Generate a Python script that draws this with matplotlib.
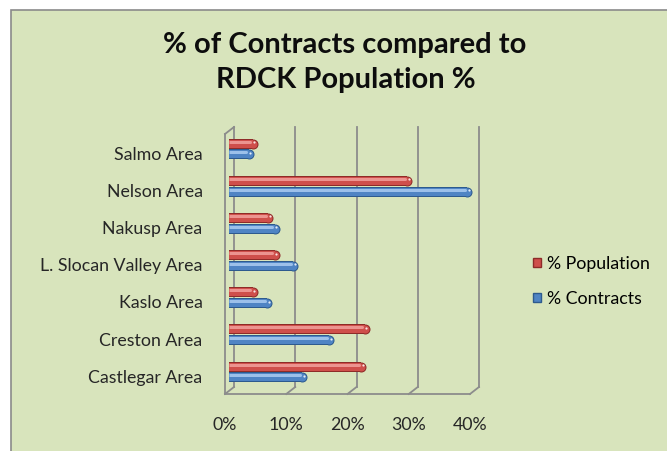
#!/usr/bin/env python3
"""Contracts vs population share per RDCK area, Excel-style tube bars."""

import matplotlib

matplotlib.use("Agg")
import matplotlib.pyplot as plt  # noqa: E402
from matplotlib.patches import Patch, Rectangle  # noqa: E402
from matplotlib.transforms import ScaledTranslation, offset_copy  # noqa: E402


AREAS = [
    "Castlegar Area",
    "Creston Area",
    "Kaslo Area",
    "L. Slocan Valley Area",
    "Nakusp Area",
    "Nelson Area",
    "Salmo Area",
]
POPULATION = [22.4, 23.0, 4.7, 8.3, 7.2, 29.9, 4.7]
CONTRACTS = [12.8, 17.2, 7.1, 11.3, 8.3, 39.7, 4.0]
X_TICKS = [0, 10, 20, 30, 40]
X_LABELS = ["0%", "10%", "20%", "30%", "40%"]

BACKGROUND = "#d8e4bc"
GRID = "#8c8c8c"
RED = ("#8e2b28", "#cf4f4b", "#ec9490")
BLUE = ("#2d5a8e", "#4f84c4", "#9cc0ea")
FONT = ["Lato", "DejaVu Sans"]

W, H, DPI = 667, 451, 100
PX_PER_UNIT = 245 / 40
PX_PER_ROW = 260 / len(AREAS)


def px(value: float) -> float:
    return value * 72 / DPI


def draw_tubes(axis, values, positions, palette, height_px=10.0):
    dark, body, light = palette
    for value, y in zip(values, positions):
        for width, color, dy, trim in (
            (height_px, dark, 0.0, 0.0),
            (height_px - 2.0, body, 0.0, 0.0),
            (3.0, light, 2.0, 2.5),
        ):
            end = value - height_px / 2 / PX_PER_UNIT - trim / PX_PER_UNIT
            transform = offset_copy(axis.transData, fig=axis.figure, x=0, y=dy, units="dots")
            axis.plot([0, end], [y, y], color=color, linewidth=px(width),
                      solid_capstyle="butt", transform=transform, zorder=3)
            axis.plot([end], [y], marker="o", markersize=px(width),
                      markeredgewidth=0, color=color, transform=transform, zorder=3)
        tip = value - height_px / 2 / PX_PER_UNIT
        spot = offset_copy(axis.transData, fig=axis.figure, x=0, y=1.5, units="dots")
        axis.plot([tip + 1.5 / PX_PER_UNIT], [y], marker="o", markersize=px(2.2),
                  markeredgewidth=0, color="white", alpha=0.85, zorder=4, transform=spot)


fig = plt.figure(figsize=(W / DPI, H / DPI), dpi=DPI, facecolor="white")
fig.patches.append(Rectangle((11 / W, -0.05), 1.1, (H - 10) / H + 0.05,
                             transform=fig.transFigure, facecolor=BACKGROUND,
                             edgecolor="#8a8a8a", linewidth=1.2, zorder=-5))

axis = fig.add_axes([229 / W, 60.5 / H, 245 / W, 260 / H])
axis.set_facecolor("none")
axis.set_xlim(0, 40)
axis.set_ylim(-0.5, len(AREAS) - 0.5)
for spine in axis.spines.values():
    spine.set_visible(False)

front = offset_copy(axis.transData, fig=fig, x=-4, y=-3.5, units="dots")
back = offset_copy(axis.transData, fig=fig, x=5, y=3.5, units="dots")
top = len(AREAS) - 0.5
bottom = -0.5
depth_x = 9 / PX_PER_UNIT
depth_y = 7 / PX_PER_ROW
line_style = dict(color=GRID, linewidth=1.3, clip_on=False, zorder=1)

# back wall gridlines and the floor ticks joining them to the front edge
for tick in X_TICKS[1:]:
    axis.plot([tick, tick], [bottom, top], transform=back, **line_style)
    axis.plot([tick - depth_x, tick], [bottom - depth_y, bottom], transform=back, **line_style)
axis.plot([0, 40], [bottom, bottom], transform=front, **line_style)
# left wall
axis.plot([0, 0], [bottom, top], transform=front, **line_style)
axis.plot([0, 0], [bottom, top], transform=back, **line_style)
axis.plot([-depth_x, 0], [top - depth_y, top], transform=back, **line_style)
axis.plot([-depth_x, 0], [bottom - depth_y, bottom], transform=back, **line_style)

centers = list(range(len(AREAS)))
offset = 0.145
draw_tubes(axis, POPULATION, [c + offset for c in centers], RED)
draw_tubes(axis, CONTRACTS, [c - offset for c in centers], BLUE)

axis.set_yticks([c - offset + 0.03 for c in centers], AREAS, fontsize=12.8, family=FONT,
                color="#262626")
axis.tick_params(axis="y", length=0, pad=19)
axis.set_xticks(X_TICKS, X_LABELS, fontsize=12.8, family=FONT, color="#262626")
axis.tick_params(axis="x", length=0, pad=19)
for label in axis.get_xticklabels():
    label.set_transform(label.get_transform() + ScaledTranslation(-4 / DPI, 0, fig.dpi_scale_trans))

fig.text(345 / W, 1 - 45 / H, "% of Contracts compared to", ha="center", va="center",
         fontsize=21, fontweight="bold", family=FONT, color="#0d0d0d")
fig.text(346 / W, 1 - 80 / H, "RDCK Population %", ha="center", va="center",
         fontsize=21, fontweight="bold", family=FONT, color="#0d0d0d")

handles = [Patch(facecolor=RED[1], edgecolor=RED[0]), Patch(facecolor=BLUE[1], edgecolor=BLUE[0])]
fig.legend(handles, ["% Population", "% Contracts"], loc="upper left",
           bbox_to_anchor=(533 / W, 1 - 256 / H), frameon=False, borderpad=0,
           borderaxespad=0, handlelength=0.45, handleheight=0.45, handletextpad=0.35,
           labelspacing=1.05, prop={"family": FONT, "size": 12.8})

fig.savefig("out.png", dpi=DPI, facecolor="white")
